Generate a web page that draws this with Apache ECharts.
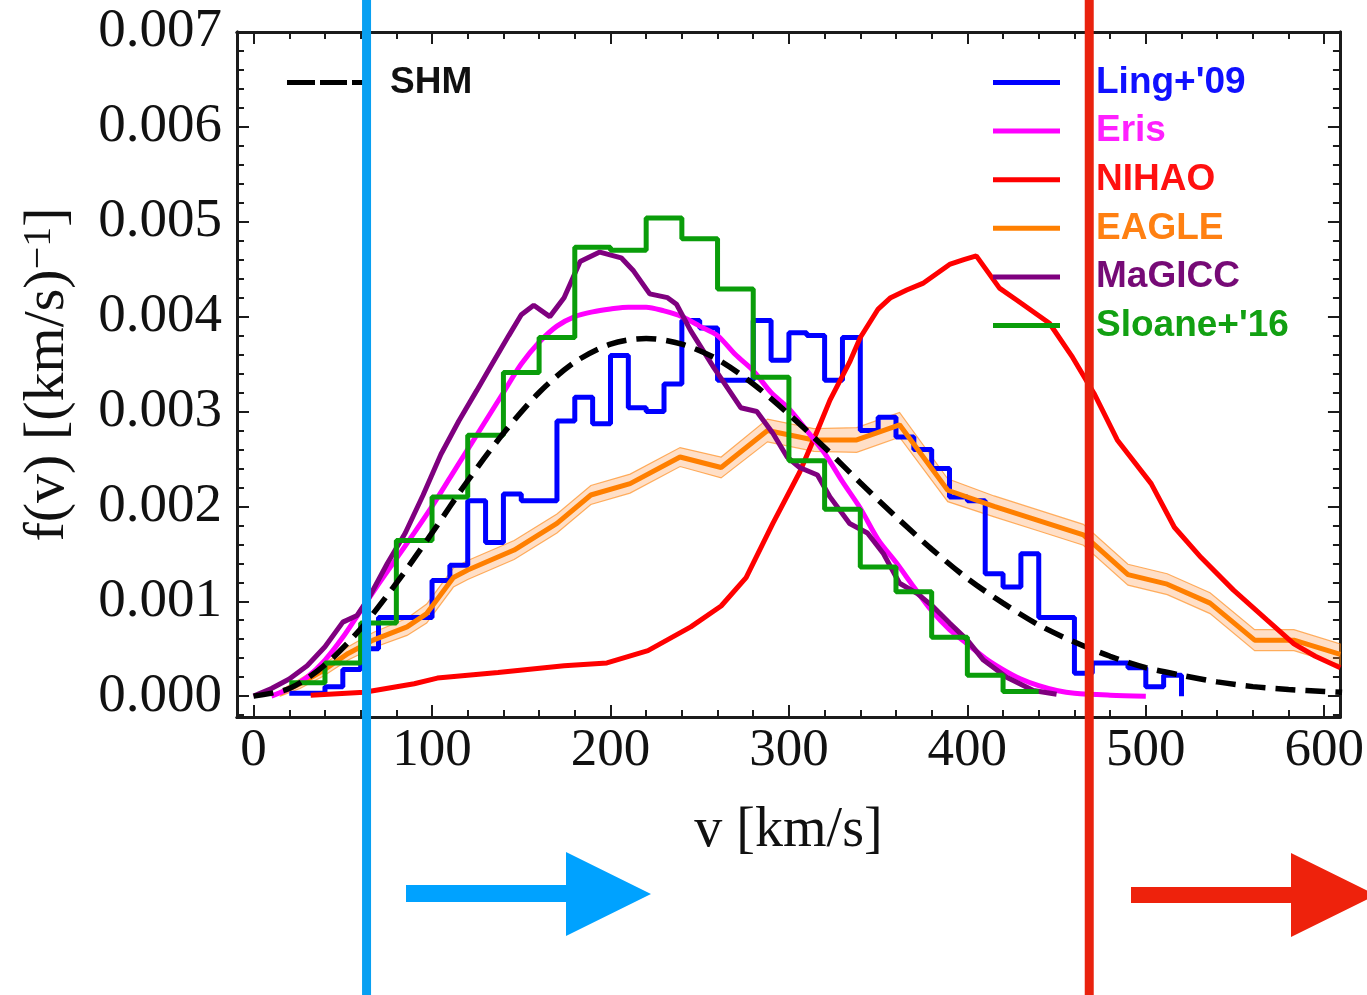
<!DOCTYPE html>
<html>
<head>
<meta charset="utf-8">
<title>f(v)</title>
<script src="https://cdn.jsdelivr.net/npm/echarts@6/dist/echarts.min.js"></script>
<style>
  html, body { margin: 0; padding: 0; background: #fff; }
  #chart { width: 1367px; height: 995px; }
</style>
</head>
<body>
<div id="chart"></div>
<script>
// ---- data (v in km/s, f in (km/s)^-1) ----
const shmV = [0, 20, 40, 60, 80, 100, 120, 140, 160, 180, 200, 220, 240, 260, 280, 300, 320, 340, 360, 380, 400, 420, 440, 460, 480, 500, 520, 540, 560, 580, 600, 610];
const shmF = [0, 0.00008, 0.00033, 0.00071, 0.00119, 0.00172, 0.00227, 0.00277, 0.0032, 0.00352, 0.00371, 0.00377, 0.00371, 0.00355, 0.00329, 0.00297, 0.00262, 0.00225, 0.00189, 0.00155, 0.00124, 0.00098, 0.00075, 0.00057, 0.00042, 0.0003, 0.00022, 0.00015, 0.0001, 0.00007, 0.00005, 0.00004];

// histogram: left bin edges, last entry closes the histogram
const lingV = [20, 30, 40, 50, 60, 70, 80, 90, 100, 110, 120, 130, 140, 150, 160, 170, 180, 190, 200, 210, 220, 230, 240, 250, 260, 270, 280, 290, 300, 310, 320, 330, 340, 350, 360, 370, 380, 390, 400, 410, 420, 430, 440, 450, 460, 470, 480, 490, 500, 510, 520];
const lingF = [0.00003, 0.00003, 0.0001, 0.00028, 0.0005, 0.00083, 0.00083, 0.00083, 0.00122, 0.00138, 0.00206, 0.00162, 0.00213, 0.00206, 0.00206, 0.0029, 0.00315, 0.00287, 0.00359, 0.00304, 0.003, 0.00329, 0.00396, 0.00388, 0.00333, 0.00333, 0.00396, 0.00354, 0.00383, 0.0038, 0.00333, 0.00378, 0.0028, 0.00294, 0.00273, 0.0026, 0.0024, 0.0021, 0.00206, 0.00129, 0.00115, 0.0015, 0.00083, 0.00083, 0.00024, 0.00035, 0.00035, 0.0003, 0.0001, 0.00022, 0];

const erisV = [10, 20, 30, 40, 50, 60, 70, 80, 90, 100, 110, 120, 130, 140, 150, 160, 170, 180, 190, 200, 210, 220, 230, 240, 250, 260, 270, 280, 290, 300, 310, 320, 330, 340, 350, 360, 370, 380, 390, 400, 410, 420, 430, 440, 450, 460, 480, 500];
const erisF = [0, 0.00008, 0.0002, 0.00038, 0.00062, 0.0009, 0.00118, 0.00145, 0.00172, 0.002, 0.0023, 0.0026, 0.0029, 0.0032, 0.0035, 0.00373, 0.0039, 0.004, 0.00405, 0.00408, 0.0041, 0.0041, 0.00406, 0.004, 0.0039, 0.0038, 0.0036, 0.00343, 0.0032, 0.00303, 0.0028, 0.00256, 0.00226, 0.00198, 0.00165, 0.00141, 0.00115, 0.0009, 0.0007, 0.00055, 0.0004, 0.00028, 0.00018, 0.00011, 0.00006, 0.00003, 0.00001, 0];

const nihaoV = [32, 62, 90, 103, 137, 174, 198, 221, 245, 262, 276, 291, 306, 316, 323, 334, 340, 350, 357, 366, 375, 390, 398, 405, 418, 428, 446, 459, 471, 484, 503, 516, 531, 549, 568, 583, 595, 609];
const nihaoF = [0.00001, 0.00004, 0.00013, 0.00019, 0.00025, 0.00032, 0.00035, 0.00048, 0.00073, 0.00095, 0.00125, 0.00182, 0.00236, 0.0028, 0.00312, 0.00352, 0.00378, 0.00408, 0.0042, 0.00428, 0.00435, 0.00455, 0.0046, 0.00464, 0.0043, 0.00417, 0.00393, 0.00357, 0.00319, 0.0027, 0.00224, 0.00178, 0.00146, 0.00112, 0.0008, 0.00055, 0.00042, 0.0003];

const eagleV = [15, 26, 39, 53, 67, 86, 97, 112, 120, 146, 170, 189, 211, 239, 262, 288, 314, 338, 362, 389, 415, 440, 465, 490, 512, 536, 561, 583, 609];
const eagleF = [0.00003, 0.00013, 0.00027, 0.00045, 0.00059, 0.00073, 0.00087, 0.00125, 0.00133, 0.00154, 0.00182, 0.00212, 0.00224, 0.00252, 0.00241, 0.0028, 0.0027, 0.0027, 0.00286, 0.00217, 0.002, 0.00185, 0.0017, 0.00128, 0.00118, 0.00098, 0.00059, 0.00059, 0.00044];
const eagleErr = [0.00003, 0.00005, 0.00006, 0.00007, 0.00008, 0.00009, 0.0001, 0.0001, 0.0001, 0.0001, 0.0001, 0.0001, 0.0001, 0.0001, 0.00011, 0.00012, 0.00012, 0.00013, 0.00013, 0.00012, 0.00011, 0.00011, 0.00011, 0.00011, 0.00011, 0.00011, 0.00011, 0.00011, 0.00011];

const magiccV = [0, 10, 20, 30, 40, 50, 58, 65, 75, 85, 95, 105, 115, 125, 133, 143, 150, 157, 166, 174, 183, 194, 206, 213, 222, 232, 237, 245, 258, 273, 282, 291, 299, 306, 316, 323, 334, 344, 353, 362, 372, 381, 390, 400, 409, 422, 437, 450];
const magiccF = [0, 0.00008, 0.00018, 0.00032, 0.00052, 0.00078, 0.00085, 0.00105, 0.0014, 0.00172, 0.00212, 0.00255, 0.0029, 0.00322, 0.00348, 0.0038, 0.00402, 0.00412, 0.004, 0.0042, 0.00458, 0.00468, 0.00462, 0.00448, 0.00424, 0.0042, 0.00413, 0.00385, 0.00346, 0.00304, 0.003, 0.00277, 0.00252, 0.00241, 0.00233, 0.0021, 0.00182, 0.00172, 0.0015, 0.00119, 0.00108, 0.00094, 0.00077, 0.00059, 0.00038, 0.0002, 0.00006, 0.00002];

const sloaneV = [20, 40, 60, 80, 100, 120, 140, 160, 180, 200, 220, 240, 260, 280, 300, 320, 340, 360, 380, 400, 420, 440];
const sloaneF = [0.00014, 0.00035, 0.00077, 0.00164, 0.0021, 0.00275, 0.00341, 0.00378, 0.00473, 0.0047, 0.00504, 0.00482, 0.00429, 0.00336, 0.00248, 0.00197, 0.00136, 0.0011, 0.00062, 0.00022, 0.00005, 0.00005];

const xTicks = [0, 100, 200, 300, 400, 500, 600];
const yTicks = [0, 0.001, 0.002, 0.003, 0.004, 0.005, 0.006, 0.007];

// cut lines drawn over the figure (in km/s)
const blueCut = 63.3;
const redCut = 468.3;

// ---- style ----
const X_MIN = -9.3, X_MAX = 608.8, Y_MIN = -0.00022, Y_MAX = 0.007;
const SERIF = "'Liberation Serif', 'Times New Roman', serif";
const SANS = "'Liberation Sans', Arial, sans-serif";
const INK = '#1b1b1b';
const C = {
  ling: '#0000ff', eris: '#ff00ff', nihao: '#ff0000', eagle: '#ff7f00',
  magicc: '#7f007f', sloane: '#0a9d0a', shm: '#000000'
};

const xMinor = [], yMinor = [];
for (let v = 20; v < 610; v += 20) if (v % 100) xMinor.push(v);
for (let i = -1; i <= 35; i++) if (i % 5) yMinor.push(+(i * 0.0002).toFixed(4));

const pairs = (xs, ys) => xs.map((x, i) => [x, ys[i]]);

function xAxisOf(position, ticks, len, main) {
  return {
    type: 'value', position, min: X_MIN, max: X_MAX,
    axisLine: { show: true, onZero: false, lineStyle: { color: INK, width: 3 } },
    axisTick: { show: true, inside: true, length: len, customValues: ticks, lineStyle: { color: INK, width: 2 } },
    axisLabel: main ? {
      show: true, customValues: xTicks, margin: 8,
      fontFamily: SERIF, fontSize: 53, color: '#111'
    } : { show: false },
    splitLine: { show: false },
    name: main ? 'v [km/s]' : '',
    nameLocation: 'middle', nameGap: 86,
    nameTextStyle: { fontFamily: SERIF, fontSize: 56, color: '#111' }
  };
}

function yAxisOf(position, ticks, len, main) {
  return {
    type: 'value', position, min: Y_MIN, max: Y_MAX,
    axisLine: { show: true, onZero: false, lineStyle: { color: INK, width: 3 } },
    axisTick: { show: true, inside: true, length: len, customValues: ticks, lineStyle: { color: INK, width: 2 } },
    axisLabel: main ? {
      show: true, customValues: yTicks, margin: 15,
      formatter: v => v.toFixed(3),
      fontFamily: SERIF, fontSize: 55, color: '#111'
    } : { show: false },
    splitLine: { show: false },
    name: main ? 'f(v) [(km/s){sup|−1}]' : '',
    nameLocation: 'middle', nameRotate: 90, nameGap: 160,
    nameTextStyle: {
      fontFamily: SERIF, fontSize: 58, color: '#111',
      rich: { sup: { fontFamily: SERIF, fontSize: 40, color: '#111', verticalAlign: 'top' } }
    }
  };
}

function line(name, xs, ys, color, extra) {
  return Object.assign({
    name, type: 'line', data: pairs(xs, ys), symbol: 'none',
    color, itemStyle: { color },
    lineStyle: { color, width: 5 },
    emphasis: { disabled: true }
  }, extra || {});
}

const legendText = (color) => ({ color });

const option = {
  animation: false,
  backgroundColor: '#fff',
  grid: { left: 237, right: 27, top: 32, bottom: 278, show: false },
  xAxis: [
    xAxisOf('bottom', xTicks, 12, true),
    xAxisOf('bottom', xMinor, 7, false),
    xAxisOf('top', xTicks, 12, false),
    xAxisOf('top', xMinor, 7, false)
  ],
  yAxis: [
    yAxisOf('left', yTicks, 12, true),
    yAxisOf('left', yMinor, 7, false),
    yAxisOf('right', yTicks, 12, false),
    yAxisOf('right', yMinor, 7, false)
  ],
  legend: [
    {
      data: [{ name: 'SHM', icon: 'path://M0 0H28V5H0Z M33 0H60V5H33Z M65 0H80V5H65Z' }],
      left: 282, top: 59, itemWidth: 80, itemHeight: 5, selectedMode: false,
      textStyle: { fontFamily: SANS, fontWeight: 'bold', fontSize: 37, lineHeight: 36, color: '#111', padding: [0, 0, 0, 18] }
    },
    {
      data: [
        { name: "Ling+'09", icon: 'rect', textStyle: legendText('#1010ff') },
        { name: 'Eris', icon: 'rect', textStyle: legendText('#ff20ff') },
        { name: 'NIHAO', icon: 'rect', textStyle: legendText('#ff1010') },
        { name: 'EAGLE', icon: 'rect', textStyle: legendText('#ff8012') },
        { name: 'MaGICC', icon: 'rect', textStyle: legendText('#760a76') },
        { name: "Sloane+'16", icon: 'rect', textStyle: legendText('#12a012') }
      ],
      orient: 'vertical', left: 988, top: 59, itemWidth: 67, itemHeight: 5, itemGap: 11.6,
      selectedMode: false,
      textStyle: { fontFamily: SANS, fontWeight: 'bold', fontSize: 37, lineHeight: 36, padding: [0, 0, 0, 31] }
    }
  ],
  series: [
    line("Ling+'09", lingV, lingF, C.ling, { step: 'end' }),
    {
      name: 'EAGLE band', type: 'custom', silent: true,
      data: [[0, 0]],
      renderItem: (params, api) => {
        const hi = eagleV.map((v, i) => api.coord([v, eagleF[i] + eagleErr[i]]));
        const lo = eagleV.map((v, i) => api.coord([v, eagleF[i] - eagleErr[i]])).reverse();
        return {
          type: 'polygon',
          shape: { points: hi.concat(lo) },
          style: { fill: 'rgba(255,150,70,0.3)', stroke: 'rgba(255,127,0,0.6)', lineWidth: 1.2 }
        };
      }
    },
    line('EAGLE', eagleV, eagleF, C.eagle),
    line('NIHAO', nihaoV, nihaoF, C.nihao),
    line('Eris', erisV, erisF, C.eris, { smooth: 0.3 }),
    line('MaGICC', magiccV, magiccF, C.magicc),
    line("Sloane+'16", sloaneV, sloaneF, C.sloane, { step: 'end' }),
    line('SHM', shmV, shmF, C.shm, { smooth: 0.3, lineStyle: { color: C.shm, width: 5.5, type: [20, 10] } })
  ]
};

const chart = echarts.init(document.getElementById('chart'), null, { renderer: 'canvas' });
chart.setOption(option);

// annotation overlays: two cut lines and two arrows
const bx = chart.convertToPixel({ xAxisIndex: 0 }, blueCut);
const rx = chart.convertToPixel({ xAxisIndex: 0 }, redCut);
const BLUE = '#09a0f2', RED = '#e9220e';
chart.setOption({
  graphic: [
    { type: 'line', z: 100, shape: { x1: bx, y1: 0, x2: bx, y2: 995 }, style: { stroke: BLUE, lineWidth: 9 } },
    { type: 'line', z: 100, shape: { x1: rx, y1: 0, x2: rx, y2: 995 }, style: { stroke: RED, lineWidth: 9 } },
    { type: 'polygon', z: 100, shape: { points: [[406, 885], [566, 885], [566, 852], [651, 894], [566, 936], [566, 902], [406, 902]] }, style: { fill: '#00a2ff' } },
    { type: 'polygon', z: 100, shape: { points: [[1131, 887], [1291, 887], [1291, 853], [1376, 895], [1291, 937], [1291, 903], [1131, 903]] }, style: { fill: '#ee220c' } }
  ]
});
</script>
</body>
</html>
